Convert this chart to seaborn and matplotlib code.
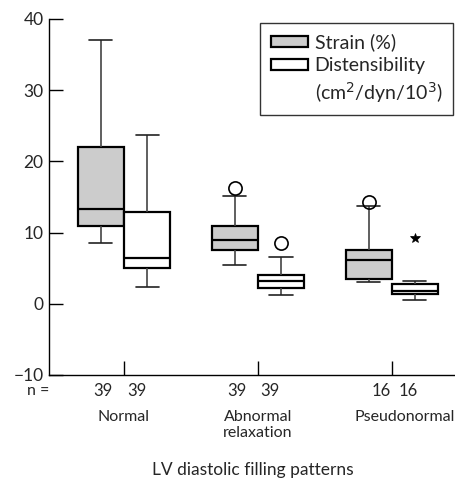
import numpy as np
import pandas as pd
import seaborn as sns
import matplotlib.pyplot as plt
from matplotlib import transforms
from matplotlib.patches import Patch

###########################################################################################
# data (per group values chosen to give the drawn quartiles)

categories = ['Normal', 'Abnormal\nrelaxation', 'Pseudonormal']
measures = ['Strain (%)', 'Distensibility']
measure_unit_line = '(cm$^2$/dyn/10$^3$)'

normal_strain = [8.6, 10.9, 10.9, 13.3, 13.3, 13.3, 22.0, 22.0, 37.0]
normal_dist = [2.4, 5.0, 5.0, 6.5, 6.5, 6.5, 12.9, 12.9, 23.7]
abnormal_strain = [5.5, 7.6, 7.6, 8.9, 8.9, 8.9, 10.9, 15.1, 16.3]
abnormal_dist = [1.2, 2.2, 2.2, 3.2, 3.2, 3.2, 4.0, 6.6, 8.5]
pseudo_strain = [3.0, 3.45, 3.45, 6.1, 6.1, 6.1, 7.6, 13.7, 14.3]
pseudo_dist = [0.6, 1.4, 1.4, 1.8, 1.8, 1.8, 2.85, 3.2, 9.2]

n_counts = [[39, 39], [39, 39], [16, 16]]
y_ticks = [-10, 0, 10, 20, 30, 40]

groups = [[normal_strain, normal_dist],
          [abnormal_strain, abnormal_dist],
          [pseudo_strain, pseudo_dist]]

###########################################################################################
# build long form table

rows = []
for cat, pair in zip(categories, groups):
    for meas, values in zip(measures, pair):
        for v in values:
            rows.append({'pattern': cat, 'measure': meas, 'value': v})
df = pd.DataFrame(rows)

# extreme outliers (beyond 3 IQR) are drawn as stars
extremes = set()
for pair in groups:
    for values in pair:
        q1, q3 = np.percentile(values, [25, 75])
        for v in values:
            if v > q3 + 3 * (q3 - q1) or v < q1 - 3 * (q3 - q1):
                extremes.add(v)

###########################################################################################
# plotting

sns.set_style('white')
plt.rcParams['font.family'] = ['Lato', 'DejaVu Sans']

fig = plt.figure(figsize=(4.56, 4.82), dpi=100)
ax = fig.add_axes([0.1075, 0.222, 0.8925, 0.7386])

sns.boxplot(data=df, x='pattern', y='value', hue='measure',
            order=categories, hue_order=measures,
            palette={measures[0]: '#cccccc', measures[1]: 'white'},
            saturation=1, width=0.69, gap=0, linecolor='black',
            linewidth=1.6, whis=1.5, ax=ax,
            whiskerprops={'color': '#444444', 'linewidth': 1.2},
            capprops={'color': '#222222', 'linewidth': 1.2},
            flierprops={'marker': 'o', 'markersize': 9.5,
                        'markerfacecolor': 'none',
                        'markeredgecolor': 'black',
                        'markeredgewidth': 1.2})

# swap the extreme flier markers to stars
for line in ax.lines:
    yd = np.asarray(line.get_ydata(), dtype=float)
    if line.get_marker() == 'o' and len(yd) > 0:
        if all(v in extremes for v in yd):
            line.set_marker('*')
            line.set_markerfacecolor('black')
            line.set_markersize(7)
            line.set_markeredgewidth(0.5)

# axes look
ax.set_xlim(-0.56, 2.48)
ax.set_ylim(-10, 40)
ax.set_yticks(y_ticks)
ax.set_xticks(range(len(categories)))
ax.set_xticklabels([])
ax.tick_params(axis='both', direction='in', length=10, width=1,
               color='black', labelsize=12.5, pad=4,
               left=True, bottom=True)
for side in ['top', 'right']:
    ax.spines[side].set_visible(False)
for side in ['left', 'bottom']:
    ax.spines[side].set_color('black')
    ax.spines[side].set_linewidth(1)
ax.set_ylabel('')

# n counts and category names under the axis
trans = transforms.blended_transform_factory(ax.transData, ax.transAxes)
n_offsets = [(-0.155, 0.095), (-0.155, 0.09), (-0.075, 0.12)]
ax.text(-0.64, -0.045, 'n =', transform=trans, ha='center', va='center',
        fontsize=11.5)
for i, (cat, counts) in enumerate(zip(categories, n_counts)):
    for off, n in zip(n_offsets[i], counts):
        ax.text(i + off, -0.045, str(n), transform=trans, ha='center',
                va='center', fontsize=12)
    ax.text(i + (0.1 if i == 2 else 0), -0.098, cat, transform=trans,
            ha='center', va='top', fontsize=11.5, linespacing=1.2)

ax.set_xlabel('LV diastolic filling patterns', fontsize=12.5)
ax.xaxis.set_label_coords(0.5, -0.244)

# legend: the unit goes on its own row under Distensibility
old = ax.get_legend()
handles = list(old.legend_handles)
labels = [t.get_text() for t in old.get_texts()]
handles.append(Patch(facecolor='none', edgecolor='none'))
labels.append(measure_unit_line)
leg = ax.legend(handles, labels, loc='upper right',
                bbox_to_anchor=(0.993, 0.99), frameon=True, fancybox=False,
                edgecolor='black', fontsize=14, handlelength=1.9,
                handleheight=0.5, borderpad=0.55, labelspacing=0.3,
                handletextpad=0.36, borderaxespad=0)
leg.get_frame().set_linewidth(1)

plt.savefig('out.png', dpi=100)
plt.close()
